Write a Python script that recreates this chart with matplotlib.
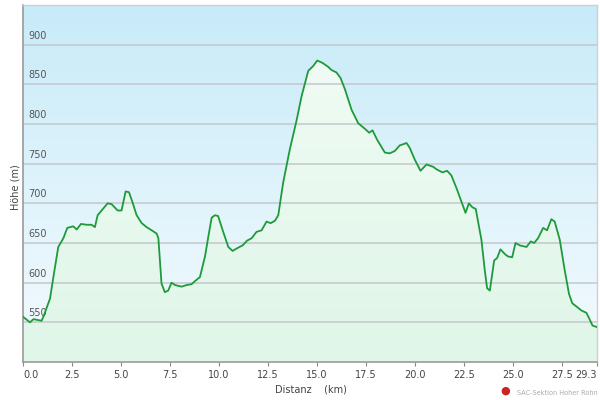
import matplotlib
matplotlib.use("Agg")
import matplotlib.pyplot as plt
import numpy as np
from matplotlib.colors import LinearSegmentedColormap
from matplotlib.transforms import offset_copy

# elevation profile
dist_km = [0.0, 0.36, 0.53, 0.95, 1.04, 1.38, 1.55, 1.80, 2.06, 2.26, 2.40, 2.57, 2.74,
           2.96, 3.25, 3.50, 3.67, 3.81, 4.05, 4.32, 4.52, 4.83, 5.03, 5.24, 5.41, 5.58,
           5.80, 6.06, 6.31, 6.57, 6.82, 6.91, 7.07, 7.24, 7.41, 7.58, 7.76, 8.10, 8.35,
           8.60, 8.78, 9.03, 9.29, 9.46, 9.63, 9.80, 9.96, 10.22, 10.48, 10.70, 10.90,
           11.21, 11.44, 11.67, 11.92, 12.18, 12.43, 12.64, 12.86, 13.03, 13.28, 13.62,
           13.96, 14.22, 14.56, 14.81, 15.02, 15.29, 15.58, 15.75, 16.00, 16.21, 16.43,
           16.77, 17.11, 17.45, 17.67, 17.84, 18.08, 18.47, 18.72, 18.98, 19.23, 19.58,
           19.74, 20.00, 20.29, 20.60, 20.94, 21.10, 21.41, 21.65, 21.87, 22.13, 22.38,
           22.59, 22.76, 22.94, 23.11, 23.40, 23.57, 23.69, 23.83, 24.05, 24.20, 24.37,
           24.60, 24.76, 24.97, 25.14, 25.36, 25.70, 25.92, 26.09, 26.29, 26.55, 26.75,
           26.97, 27.14, 27.40, 27.65, 27.87, 28.04, 28.25, 28.50, 28.76, 28.90, 29.07,
           29.30]
hoehe_m = [557, 550, 554, 552, 557, 580, 607, 645, 656, 669, 670, 671, 667,
           674, 673, 673, 670, 685, 692, 700, 699, 691, 691, 715, 714, 702,
           685, 675, 670, 666, 662, 656, 599, 588, 590, 600, 597, 595, 597,
           598, 602, 607, 633, 658, 682, 685, 684, 664, 645, 640, 643,
           647, 653, 656, 664, 666, 677, 675, 678, 685, 726, 768,
           804, 835, 867, 873, 880, 877, 872, 868, 865, 858, 844,
           818, 801, 794, 789, 792, 780, 764, 763, 766, 773, 776,
           770, 755, 741, 749, 746, 743, 739, 741, 735, 719, 702,
           688, 700, 695, 693, 654, 616, 593, 590, 628, 631, 642,
           636, 633, 632, 650, 647, 645, 652, 650, 656, 669, 666,
           680, 677, 654, 616, 586, 574, 570, 565, 562, 555, 546,
           544]

x_ticks = [0.0, 2.5, 5.0, 7.5, 10.0, 12.5, 15.0, 17.5, 20.0, 22.5, 25.0, 27.5, 29.3]
y_ticks = [550, 600, 650, 700, 750, 800, 850, 900]

fig = plt.figure(figsize=(6, 4), dpi=100)
ax = fig.add_axes([23 / 600, 38 / 400, 574 / 600, 357 / 400])
xmin, xmax, ymin, ymax = 0, 29.3, 500, 950
ax.set_xlim(xmin, xmax)
ax.set_ylim(ymin, ymax)

# blue sky gradient behind everything
sky = LinearSegmentedColormap.from_list("sky", ["#f4fbfe", "#c8ebf9"])
grad = np.linspace(0, 1, 256).reshape(-1, 1)
ax.imshow(grad, extent=[xmin, xmax, ymin, ymax], origin="lower", aspect="auto",
          cmap=sky, zorder=0)

# green gradient under the profile
poly = ax.fill_between(dist_km, hoehe_m, ymin, color="none", zorder=1)
green = LinearSegmentedColormap.from_list("green", ["#dff6e8", "#f0fbf4"])
gimg = ax.imshow(grad, extent=[xmin, xmax, ymin, 880], origin="lower", aspect="auto",
                 cmap=green, zorder=1)
gimg.set_clip_path(poly.get_paths()[0], transform=ax.transData)

for y in y_ticks:
    ax.axhline(y, color="#c4c8cc", lw=1.1, zorder=2)
    ax.text(0.28, y + 5, str(y), color="#555555", fontsize=7, zorder=3,
            ha="left", va="bottom")

ax.plot(dist_km, hoehe_m, color="#1e9a3a", lw=1.3, zorder=4)

ax.set_yticks([])
ax.set_xticks(x_ticks)
ax.set_xticklabels(["%.1f" % t for t in x_ticks], fontsize=7, color="#444444")
labels = ax.get_xticklabels()
labels[0].set_ha("left")
labels[-1].set_ha("right")
labels[-1].set_transform(offset_copy(labels[-1].get_transform(), fig=fig, x=-3, y=0, units="dots"))
ax.tick_params(axis="x", length=3, color="#888888", pad=3)

for side in ["left", "bottom"]:
    ax.spines[side].set_color("#9a9a9a")
    ax.spines[side].set_linewidth(1.2)
for side in ["top", "right"]:
    ax.spines[side].set_color("#d0d0d0")
    ax.spines[side].set_linewidth(1.0)

fig.text(16 / 600, 1 - 187 / 400, "Höhe (m)", rotation=90, fontsize=7,
         color="#444444", ha="center", va="center")
fig.text(311 / 600, 1 - 389 / 400, "Distanz    (km)", fontsize=7,
         color="#444444", ha="center", va="center")
fig.text(598 / 600, 1 - 393 / 400, "SAC-Sektion Hoher Rohn", fontsize=4.7,
         color="#aaaaaa", ha="right", va="center")
fig.text(505 / 600, 1 - 391 / 400, "\u25CF", fontsize=8, color="#cc2222",
         ha="center", va="center")

fig.savefig("out.png", dpi=100)
